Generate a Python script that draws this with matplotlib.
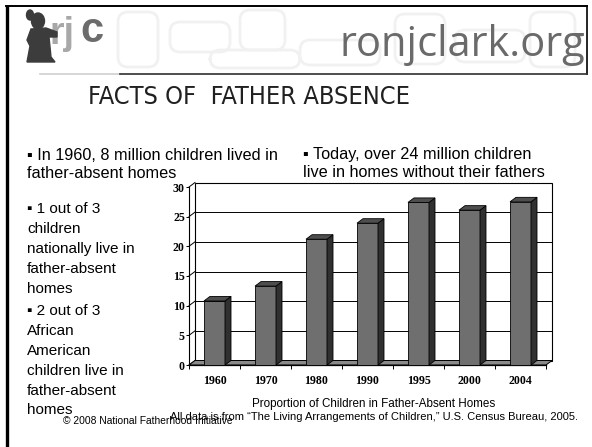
import numpy as np
import matplotlib
matplotlib.use('Agg')
from matplotlib import pyplot as plt
from matplotlib import font_manager
from matplotlib.font_manager import FontProperties
from matplotlib.patches import Polygon, Rectangle, Ellipse, FancyBboxPatch

#########################################
### Data
#########################################
years = ['1960', '1970', '1980', '1990', '1995', '2000', '2004']
pct = [10.8, 13.3, 21.2, 23.9, 27.4, 26.1, 27.5]
yticks = [0, 5, 10, 15, 20, 25, 30]

title = 'FACTS OF  FATHER ABSENCE'
site = 'ronjclark.org'
top_left = ['\u25aa In 1960, 8 million children lived in', 'father-absent homes']
top_right = ['\u25aa Today, over 24 million children', 'live in homes without their fathers']
left_col = ['\u25aa 1 out of 3', 'children', 'nationally live in', 'father-absent', 'homes',
            '\u25aa 2 out of 3', 'African', 'American', 'children live in', 'father-absent', 'homes']
caption = 'Proportion of Children in Father-Absent Homes'
source = 'All data is from \u201cThe Living Arrangements of Children,\u201d U.S. Census Bureau, 2005.'
copyright = '\u00a9 2008 National Fatherhood Initiative'

#########################################
### Fonts
#########################################
sans = ['Liberation Sans', 'DejaVu Sans']
serif = ['Liberation Serif', 'DejaVu Serif']
names = {f.name for f in font_manager.fontManager.ttflist}
site_font = ['Open Sans', 'DejaVu Sans'] if 'Open Sans' in names else ['DejaVu Sans']

# look for a narrow / condensed face for the title
narrow_fp = None
for f in font_manager.fontManager.ttflist:
    cond = ('Narrow' in f.name or 'Condensed' in f.name or
            str(f.stretch) in ('condensed', 'semi-condensed', 'extra-condensed'))
    if cond and f.style == 'normal' and f.weight in (400, 'normal', 'regular'):
        narrow_fp = FontProperties(fname=f.fname)
        break
if narrow_fp is None:
    narrow_fp = FontProperties(family=sans)

W, H = 592, 447
fig = plt.figure(figsize=(W / 100, H / 100), dpi=100)
bg = fig.add_axes([0, 0, 1, 1])
bg.set_xlim(0, W)
bg.set_ylim(H, 0)
bg.axis('off')

# slide frame
bg.plot([7, 7], [5, H], color='black', lw=2.4, solid_capstyle='butt')
bg.plot([6, 587], [6, 6], color='black', lw=1.4)
bg.plot([587, 587], [6, 74], color='black', lw=1.2)
bg.plot([40, 120], [74, 74], color='#d0d0d0', lw=1.2)
bg.plot([120, 587], [74, 74], color='#303030', lw=1.2)

# faint header pattern
for (bx, by, bw, bh) in [(118, 12, 40, 55), (170, 22, 60, 30), (240, 10, 45, 40), (300, 40, 80, 25),
                         (395, 14, 50, 50), (455, 30, 70, 32), (530, 12, 45, 55), (210, 50, 90, 18)]:
    bg.add_patch(FancyBboxPatch((bx, by), bw, bh, boxstyle='round,pad=0,rounding_size=10',
                                fc='none', ec='#f1f1f1', lw=2, zorder=0))

# logo: girl silhouette + rjc
sil = '#3c3c3c'
bg.add_patch(Ellipse((38, 21), 13, 16, color=sil, zorder=2))
bg.add_patch(Ellipse((30, 15), 7, 10, color=sil, zorder=2))
bg.add_patch(Polygon([(31, 29), (46, 28), (57, 32), (57, 37), (49, 37), (51, 57), (55, 62),
                      (27, 62), (30, 46), (27, 40)], closed=True, color=sil, zorder=2))
bg.text(50, 44, 'rj', fontsize=27, fontweight='bold', color='#a8a8a8', family=sans, zorder=1)
bg.text(80, 42, 'c', fontsize=30, fontweight='bold', color='#6c6c6c', family=sans, zorder=1)

bg.text(585, 56, site, fontsize=30, color='#6a6a6a', family=site_font, ha='right', va='baseline')

# title, fitted to its width in the slide
t = bg.text(88, 104, title, fontproperties=narrow_fp, fontsize=20, color='#202020', va='baseline')
fig.canvas.draw()
tw = t.get_window_extent().width
t.set_fontsize(20 * 322 / tw)

# bullet text
for i, s in enumerate(top_left):
    bg.text(27, 160 + 18 * i, s, fontsize=11.7, family=sans, va='baseline')
for i, s in enumerate(top_right):
    bg.text(303, 159 + 18 * i, s, fontsize=11.7, family=sans, va='baseline')
ys = [213, 233, 253, 273, 293, 315, 335, 355, 375, 395, 414]
for s, y in zip(left_col, ys):
    bg.text(27, y, s, fontsize=11, family=sans, va='baseline')

bg.text(374, 407, caption, fontsize=8.4, family=sans, ha='center', va='baseline')
bg.text(170, 420, source, fontsize=8, family=sans, va='baseline')
bg.text(63, 424, copyright, fontsize=7.4, family=sans, va='baseline')

#########################################
### 3D-look bar chart
#########################################
ax = fig.add_axes([189 / W, (H - 365) / H, 357 / W, 178 / H])
n = len(years)
x = np.arange(n)
ax.set_xlim(-0.5, n - 0.5)
ax.set_ylim(0, 30)
ax.patch.set_visible(False)
for sp in ax.spines.values():
    sp.set_visible(False)

pxx = n / 357.0
pxy = 30 / 178.0
dx, dy = 6 * pxx, 4.5 * pxy
x0, x1 = -0.5, n - 0.5

# back wall + grid
ax.add_patch(Rectangle((x0 + dx, dy), x1 - x0, 30, fc='white', ec='black', lw=0.8,
                       clip_on=False, zorder=1))
for v in yticks[1:-1]:
    ax.plot([x0 + dx, x1 + dx], [v + dy, v + dy], color='black', lw=0.7, clip_on=False, zorder=1.5)
for v in yticks:
    ax.plot([x0, x0 + dx], [v, v + dy], color='black', lw=0.7, clip_on=False, zorder=1.5)
ax.plot([x0, x0], [0, 30], color='black', lw=0.8, clip_on=False, zorder=1.5)

# floor
ax.add_patch(Polygon([(x0, 0), (x1, 0), (x1 + dx, dy), (x0 + dx, dy)], closed=True,
                     fc='#8a8a8a', ec='black', lw=0.7, clip_on=False, zorder=2))
ax.plot([x0, x1], [0, 0], color='black', lw=0.9, clip_on=False, zorder=2)

# bars
w = 21 * pxx
bars = ax.bar(x, pct, width=w, color='#6f6f6f', edgecolor='black', lw=0.6, zorder=3, clip_on=False)
for xi, v in zip(x, pct):
    r = xi + w / 2
    l = xi - w / 2
    ax.add_patch(Polygon([(r, 0), (r + dx, dy), (r + dx, v + dy), (r, v)], closed=True,
                         fc='#303030', ec='black', lw=0.6, clip_on=False, zorder=3))
    ax.add_patch(Polygon([(l, v), (r, v), (r + dx, v + dy), (l + dx, v + dy)], closed=True,
                         fc='#4e4e4e', ec='black', lw=0.6, clip_on=False, zorder=3))

ax.set_xticks(x, years)
ax.set_xticks(np.arange(n + 1) - 0.5, minor=True)
ax.tick_params(axis='x', which='major', length=0, pad=7)
ax.tick_params(axis='x', which='minor', length=3, width=0.7, direction='out')
ax.set_yticks(yticks)
ax.tick_params(axis='y', length=2.5, width=0.7, pad=0.5)
for lab in ax.get_xticklabels() + ax.get_yticklabels():
    lab.set_family(serif)
    lab.set_fontweight('bold')
    lab.set_fontsize(8.6)

fig.savefig('out.png', dpi=100)
